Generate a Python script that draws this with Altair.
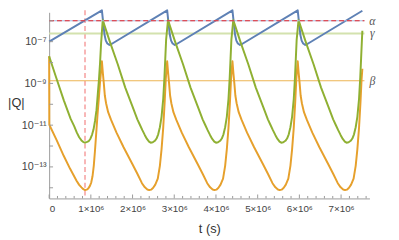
import altair as alt
import pandas as pd

# ---- data (t in units of 10^6 s, q = log10|Q|) ----
blue_t = [0.000, 1.265,
          1.295, 1.328, 1.359, 1.395, 1.445, 1.505, 2.830,
          2.860, 2.893, 2.924, 2.960, 3.010, 3.070, 4.395,
          4.425, 4.458, 4.489, 4.525, 4.575, 4.635, 5.960,
          5.990, 6.023, 6.054, 6.090, 6.140, 6.200, 7.510]
blue_q = [-7.00, -5.50,
          -6.06, -6.67, -6.95, -7.09, -7.155, -7.10, -5.50,
          -6.06, -6.67, -6.95, -7.09, -7.155, -7.10, -5.50,
          -6.06, -6.67, -6.95, -7.09, -7.155, -7.10, -5.50,
          -6.06, -6.67, -6.95, -7.09, -7.155, -7.10, -5.52]

green_t = [0.000, 0.164, 0.352, 0.516, 0.600, 0.664, 0.720, 0.775, 0.820, 0.861, 0.910, 0.951,
           0.990, 1.030, 1.065, 1.100, 1.135, 1.165, 1.195, 1.220, 1.245,
           1.285, 1.455, 1.645, 1.825, 1.995, 2.115, 2.175, 2.235, 2.295, 2.345, 2.395, 2.435,
           2.485, 2.535, 2.575, 2.615, 2.655, 2.695, 2.735, 2.765, 2.785, 2.805,
           2.850, 3.020, 3.210, 3.390, 3.560, 3.680, 3.740, 3.800, 3.860, 3.910, 3.960, 4.000,
           4.050, 4.100, 4.140, 4.180, 4.220, 4.260, 4.300, 4.330, 4.350, 4.370,
           4.415, 4.585, 4.775, 4.955, 5.125, 5.245, 5.305, 5.365, 5.425, 5.475, 5.525, 5.565,
           5.615, 5.665, 5.705, 5.745, 5.785, 5.825, 5.865, 5.895, 5.915, 5.935,
           5.980, 6.150, 6.340, 6.520, 6.690, 6.810, 6.870, 6.930, 6.990, 7.040, 7.090, 7.130,
           7.180, 7.230, 7.270, 7.310, 7.350, 7.390, 7.430, 7.460, 7.480, 7.500, 7.510]
green_q = [-7.70, -8.69, -9.81, -10.70, -11.05, -11.36, -11.58, -11.73, -11.81, -11.84, -11.80, -11.76,
           -11.65, -11.45, -11.20, -10.80, -10.28, -9.55, -8.80, -8.05, -7.10,
           -5.97, -7.00, -8.08, -9.20, -10.09, -10.72, -10.98, -11.24, -11.48, -11.66, -11.79, -11.84,
           -11.82, -11.75, -11.64, -11.44, -11.10, -10.60, -9.75, -8.70, -7.80, -6.90,
           -5.97, -7.00, -8.08, -9.20, -10.09, -10.72, -10.98, -11.24, -11.48, -11.66, -11.79, -11.84,
           -11.82, -11.75, -11.64, -11.44, -11.10, -10.60, -9.75, -8.70, -7.80, -6.90,
           -5.97, -7.00, -8.08, -9.20, -10.09, -10.72, -10.98, -11.24, -11.48, -11.66, -11.79, -11.84,
           -11.82, -11.75, -11.64, -11.44, -11.10, -10.60, -9.75, -8.70, -7.80, -6.90,
           -5.97, -7.00, -8.08, -9.20, -10.09, -10.72, -10.98, -11.24, -11.48, -11.66, -11.79, -11.84,
           -11.82, -11.75, -11.64, -11.44, -11.10, -10.60, -9.75, -8.70, -7.80, -6.90, -6.48]

orange_t = [0.000, 0.004, 0.180, 0.352, 0.500, 0.657, 0.720, 0.775, 0.820, 0.861, 0.900, 0.939,
            0.975, 1.009, 1.040, 1.070, 1.100, 1.130, 1.160, 1.190, 1.220, 1.245,
            1.265, 1.288, 1.312, 1.335, 1.365, 1.415, 1.485, 1.615, 1.785, 1.995, 2.115, 2.225,
            2.295, 2.355, 2.400, 2.445, 2.495, 2.545, 2.605, 2.655, 2.695, 2.735, 2.770, 2.795, 2.815,
            2.830, 2.853, 2.877, 2.900, 2.930, 2.980, 3.050, 3.180, 3.350, 3.560, 3.680, 3.790,
            3.860, 3.920, 3.965, 4.010, 4.060, 4.110, 4.170, 4.220, 4.260, 4.300, 4.335, 4.360, 4.380,
            4.395, 4.418, 4.442, 4.465, 4.495, 4.545, 4.615, 4.745, 4.915, 5.125, 5.245, 5.355,
            5.425, 5.485, 5.530, 5.575, 5.625, 5.675, 5.735, 5.785, 5.825, 5.865, 5.900, 5.925, 5.945,
            5.960, 5.983, 6.007, 6.030, 6.060, 6.110, 6.180, 6.310, 6.480, 6.690, 6.810, 6.920,
            6.990, 7.050, 7.095, 7.140, 7.190, 7.240, 7.300, 7.350, 7.390, 7.430, 7.465, 7.490, 7.510]
orange_q = [-7.70, -10.98, -11.72, -12.48, -13.08, -13.66, -13.86, -13.98, -14.07, -14.11, -14.09, -14.03,
            -13.92, -13.75, -13.45, -12.95, -12.20, -11.35, -10.50, -9.75, -8.95, -8.40,
            -7.94, -8.50, -9.02, -9.58, -9.95, -10.38, -10.75, -11.36, -12.06, -12.86, -13.33, -13.78,
            -13.98, -14.08, -14.11, -14.09, -14.00, -13.85, -13.56, -12.95, -12.16, -11.13, -9.90, -8.85, -8.30,
            -7.94, -8.50, -9.02, -9.58, -9.95, -10.38, -10.75, -11.36, -12.06, -12.86, -13.33, -13.78,
            -13.98, -14.08, -14.11, -14.09, -14.00, -13.85, -13.56, -12.95, -12.16, -11.13, -9.90, -8.85, -8.30,
            -7.94, -8.50, -9.02, -9.58, -9.95, -10.38, -10.75, -11.36, -12.06, -12.86, -13.33, -13.78,
            -13.98, -14.08, -14.11, -14.09, -14.00, -13.85, -13.56, -12.95, -12.16, -11.13, -9.90, -8.85, -8.30,
            -7.94, -8.50, -9.02, -9.58, -9.95, -10.38, -10.75, -11.36, -12.06, -12.86, -13.33, -13.78,
            -13.98, -14.08, -14.11, -14.09, -14.00, -13.85, -13.56, -12.95, -12.16, -11.13, -9.90, -8.85, -8.30]

ref_names = ["α", "γ", "β"]
ref_q = [-6.00, -6.61, -8.875]
ref_t_start = 0.0
ref_t_end = 7.56
label_t = 7.75
vline_t = 0.86

x_major = [0, 1, 2, 3, 4, 5, 6, 7]
x_minor = [0.2, 0.4, 0.6, 0.8, 1.2, 1.4, 1.6, 1.8, 2.2, 2.4, 2.6, 2.8, 3.2, 3.4, 3.6, 3.8,
           4.2, 4.4, 4.6, 4.8, 5.2, 5.4, 5.6, 5.8, 6.2, 6.4, 6.6, 6.8, 7.2, 7.4, 7.6]
y_labels = [-13, -11, -9, -7]
y_ticks = [-14, -13, -12, -11, -10, -9, -8, -7, -6]

# ---- layout ----
W, H = 327, 190
FONT = "Liberation Sans, DejaVu Sans"
AX = "#9a9a9a"

xs = alt.Scale(domain=[0, 7.68], nice=False, zero=False)
ys = alt.Scale(domain=[-14.51, -5.594], nice=False, zero=False)

xax = alt.Axis(values=x_major, grid=False, ticks=False, domainColor=AX, domainWidth=1,
               labelExpr="datum.value == 0 ? '0' : datum.value + '×10⁶'",
               labelFont=FONT, labelFontSize=10, labelColor="#444", labelPadding=5,
               title="t (s)", titleFont=FONT, titleFontSize=13, titleFontWeight="normal",
               titleColor="#333", titleY=31, titleBaseline="middle")
ylab = ("datum.value == -7 ? '10⁻⁷' : datum.value == -9 ? '10⁻⁹' : "
        "datum.value == -11 ? '10⁻¹¹' : datum.value == -13 ? '10⁻¹³' : ''")
yax = alt.Axis(values=y_labels, grid=False, ticks=False, domainColor=AX, domainWidth=1,
               labelExpr=ylab, labelFont=FONT, labelFontSize=11, labelColor="#444", labelPadding=3,
               title="|Q|", titleFont=FONT, titleFontSize=13, titleFontWeight="normal",
               titleColor="#333", titleAngle=0, titleX=-34, titleY=92,
               titleAlign="center", titleBaseline="middle")

X = lambda f: alt.X(f, type="quantitative", scale=xs, axis=xax)
X2 = lambda f: alt.X2(f)
Y = lambda f: alt.Y(f, type="quantitative", scale=ys, axis=yax)

refs = pd.DataFrame({"name": ref_names, "q": ref_q,
                     "t0": [ref_t_start] * 3, "t1": [ref_t_end] * 3, "lt": [label_t] * 3})
alpha_df = refs[refs.name == "α"]
gamma_df = refs[refs.name == "γ"]
beta_df = refs[refs.name == "β"]

layers = []
# vertical dashed marker
layers.append(alt.Chart(pd.DataFrame({"t": [vline_t]})).mark_rule(
    color="#f7a3a3", strokeWidth=1.6, strokeDash=[5, 3]).encode(
    x=X("t"), y=alt.value(-2), y2=alt.value(H)))
# gamma, beta reference lines
layers.append(alt.Chart(gamma_df).mark_rule(color="#d3e2ae", strokeWidth=2).encode(
    x=X("t0"), x2=X2("t1"), y=Y("q")))
layers.append(alt.Chart(beta_df).mark_rule(color="#ecb553", strokeWidth=1.1).encode(
    x=X("t0"), x2=X2("t1"), y=Y("q")))
# curves
for t, q, c in [(blue_t, blue_q, "#5e81b5"), (orange_t, orange_q, "#e6a02c"), (green_t, green_q, "#8fb032")]:
    layers.append(alt.Chart(pd.DataFrame({"t": t, "q": q})).mark_line(
        color=c, strokeWidth=2, strokeJoin="round").encode(x=X("t"), y=Y("q"), order="t:Q"))
# alpha line (drawn on top)
layers.append(alt.Chart(alpha_df).mark_rule(color="#a9bde0", strokeWidth=1.2).encode(
    x=X("t0"), x2=X2("t1"), y=Y("q")))
layers.append(alt.Chart(alpha_df).mark_rule(color="#e8262a", strokeWidth=1.2, strokeDash=[5, 3]).encode(
    x=X("t0"), x2=X2("t1"), y=Y("q")))
# labels
layers.append(alt.Chart(refs).mark_text(font="Liberation Serif", fontStyle="italic", fontSize=12,
                                        color="#555", align="center", baseline="middle").encode(
    x=X("lt"), y=Y("q"), text="name:N"))
# inward ticks
layers.append(alt.Chart(pd.DataFrame({"q": y_ticks})).mark_rule(color=AX, strokeWidth=1).encode(
    y=Y("q"), x=alt.value(0), x2=alt.value(4)))
layers.append(alt.Chart(pd.DataFrame({"t": x_major})).mark_rule(color=AX, strokeWidth=1).encode(
    x=X("t"), y=alt.value(H), y2=alt.value(H - 4)))
layers.append(alt.Chart(pd.DataFrame({"t": x_minor})).mark_rule(color=AX, strokeWidth=1).encode(
    x=X("t"), y=alt.value(H), y2=alt.value(H - 2.5)))

chart = alt.layer(*layers).properties(
    width=W, height=H,
    padding={"left": 42, "top": 2, "right": 22, "bottom": 38},
    autosize=alt.AutoSizeParams(type="none"),
).configure_view(stroke=None)

chart.save("out.html", embed_options={"renderer": "svg", "actions": False})
